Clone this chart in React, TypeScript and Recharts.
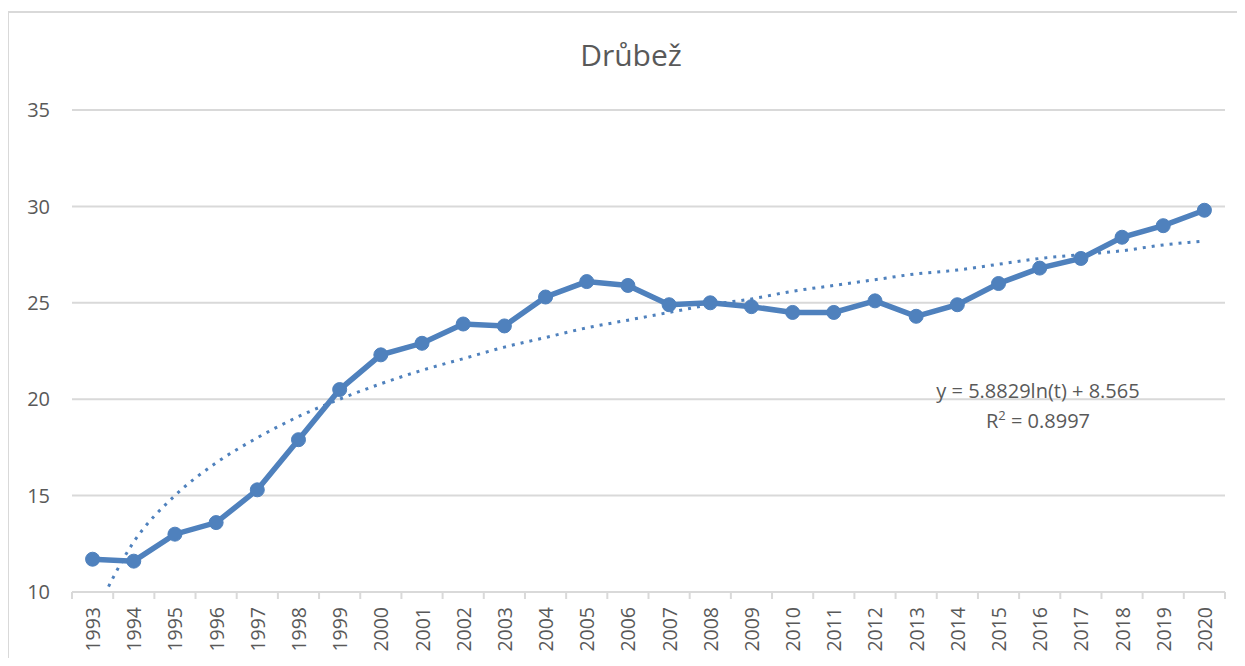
import React from "react";
import { LineChart, Line, XAxis, YAxis, CartesianGrid } from "recharts";

const years = [
  "1993", "1994", "1995", "1996", "1997", "1998", "1999", "2000", "2001", "2002",
  "2003", "2004", "2005", "2006", "2007", "2008", "2009", "2010", "2011", "2012",
  "2013", "2014", "2015", "2016", "2017", "2018", "2019", "2020",
];

const poultry = [
  11.7, 11.6, 13.0, 13.6, 15.3, 17.9, 20.5, 22.3, 22.9, 23.9,
  23.8, 25.3, 26.1, 25.9, 24.9, 25.0, 24.8, 24.5, 24.5, 25.1,
  24.3, 24.9, 26.0, 26.8, 27.3, 28.4, 29.0, 29.8,
];

// log trendline as drawn (dotted)
const trend = [
  8.6, 12.6, 15.0, 16.7, 18.0, 19.1, 20.0, 20.8, 21.5, 22.1,
  22.7, 23.2, 23.7, 24.1, 24.5, 24.9, 25.2, 25.6, 25.9, 26.2,
  26.5, 26.7, 27.0, 27.3, 27.5, 27.7, 28.0, 28.2,
];

const yTicks = [10, 15, 20, 25, 30, 35];

const chartData = years.map((year, i) => ({
  year,
  poultry: poultry[i],
  trend: trend[i],
}));

const BLUE = "#4f81bd";
const TEXT = "#595959";
const GRID = "#d9d9d9";
const FONT = "'Open Sans', 'Noto Sans', sans-serif";
const PLOT_W = 1153;
const HALF_BAND = PLOT_W / years.length / 2;

const YearTick = (props: any) => {
  const { x, y, payload, index } = props;
  return (
    <g>
      <line x1={x - HALF_BAND} y1={y - 8} x2={x - HALF_BAND} y2={y - 1} stroke={GRID} strokeWidth={2} />
      {index === years.length - 1 && (
        <line x1={x + HALF_BAND} y1={y - 8} x2={x + HALF_BAND} y2={y - 1} stroke={GRID} strokeWidth={2} />
      )}
      <text
        x={x}
        y={y + 7}
        transform={`rotate(-90, ${x}, ${y + 7})`}
        textAnchor="end"
        dominantBaseline="central"
        fill={TEXT}
        fontSize={19.5}
        fontFamily={FONT}
      >
        {payload.value}
      </text>
    </g>
  );
};

export default function App() {
  return (
    <div style={{ position: "relative", margin: -8, width: 1245, height: 666, background: "#fff", overflow: "hidden" }}>
      <div
        style={{
          position: "absolute",
          left: 7,
          top: 11,
          width: 1240,
          height: 670,
          borderTop: `2px solid ${GRID}`,
          borderLeft: `2px solid ${GRID}`,
          boxSizing: "border-box",
        }}
      />
      <div
        style={{
          position: "absolute",
          left: 0,
          width: 1262,
          top: 34,
          textAlign: "center",
          fontFamily: FONT,
          fontSize: 30,
          color: TEXT,
        }}
      >
        Drůbež
      </div>
      <div style={{ position: "absolute", left: 0, top: 0 }}>
        <LineChart
          width={1245}
          height={666}
          data={chartData}
          margin={{ top: 110, right: 20, left: 12, bottom: 14 }}
        >
          <CartesianGrid vertical={false} stroke={GRID} strokeWidth={2} />
          <XAxis
            dataKey="year"
            interval={0}
            height={60}
            padding={{ left: HALF_BAND, right: HALF_BAND }}
            axisLine={{ stroke: GRID, strokeWidth: 2 }}
            tickLine={false}
            tick={<YearTick />}
          />
          <YAxis
            domain={[10, 35]}
            ticks={yTicks}
            allowDataOverflow
            width={60}
            axisLine={false}
            tickLine={false}
            tickMargin={16}
            tick={{ fill: TEXT, fontSize: 20, fontFamily: FONT }}
          />
          <Line
            type="linear"
            dataKey="poultry"
            stroke={BLUE}
            strokeWidth={5.5}
            dot={{ r: 7, fill: BLUE, stroke: BLUE, strokeWidth: 1 }}
            isAnimationActive={false}
          />
          <Line
            type="monotone"
            dataKey="trend"
            stroke={BLUE}
            strokeWidth={3}
            strokeDasharray="3 6"
            dot={false}
            isAnimationActive={false}
          />
        </LineChart>
      </div>
      <div
        style={{
          position: "absolute",
          left: 888,
          width: 300,
          top: 376,
          textAlign: "center",
          fontFamily: FONT,
          fontSize: 20,
          lineHeight: "30px",
          color: TEXT,
        }}
      >
        <div>y = 5.8829ln(t) + 8.565</div>
        <div>
          R<sup style={{ fontSize: 13, lineHeight: 0 }}>2</sup> = 0.8997
        </div>
      </div>
    </div>
  );
}
